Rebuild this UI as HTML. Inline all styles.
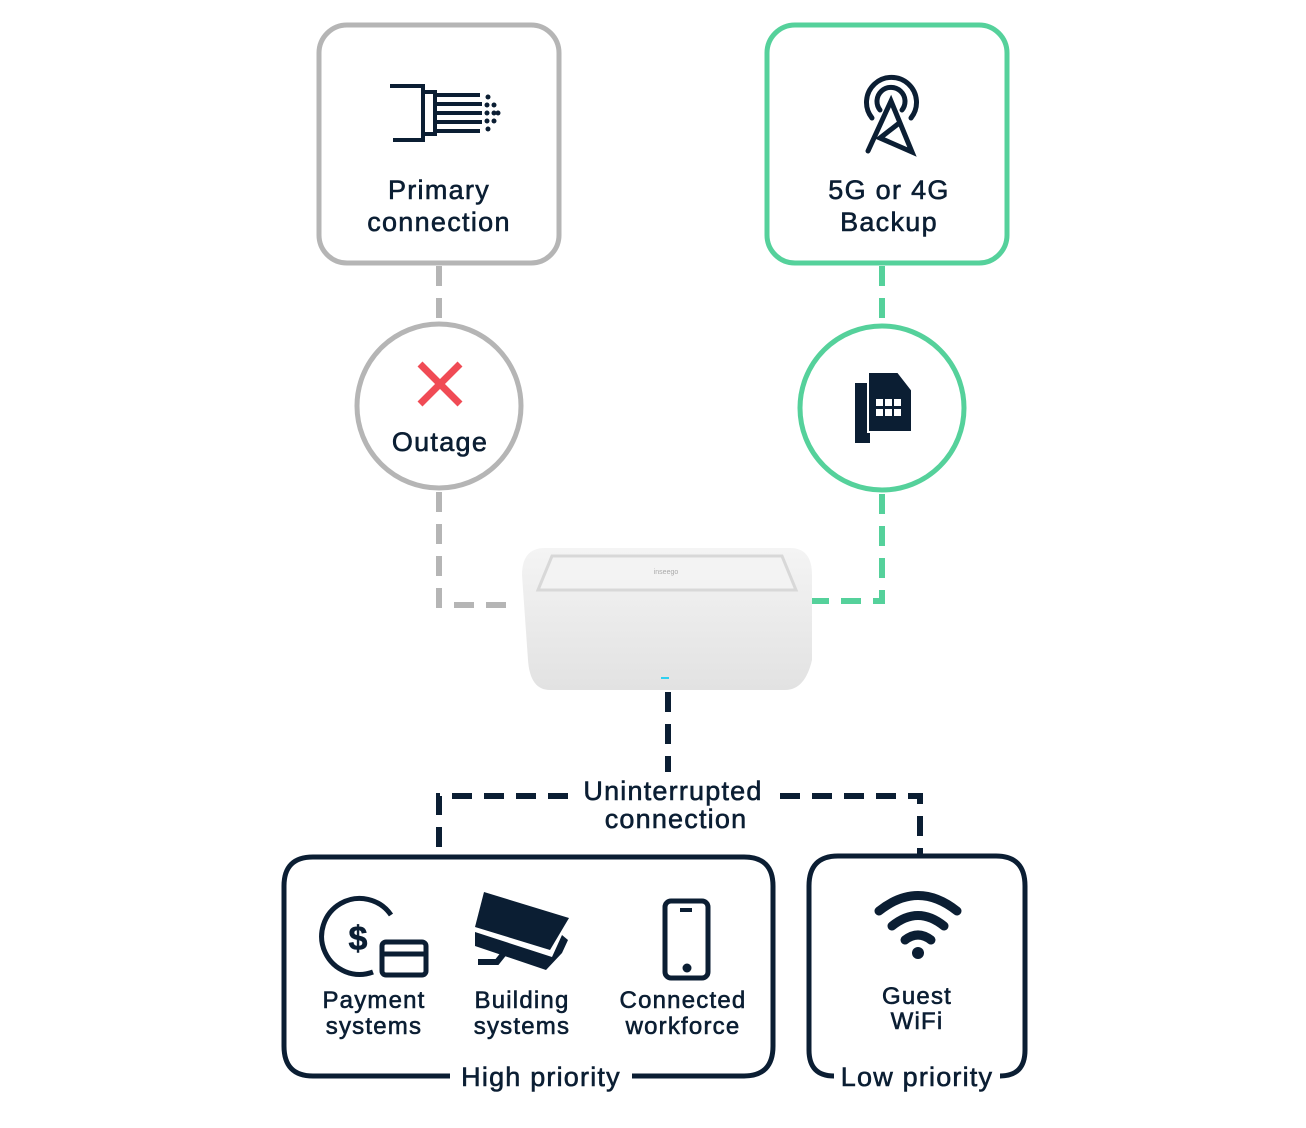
<!DOCTYPE html>
<html><head><meta charset="utf-8"><style>
html,body{margin:0;padding:0;background:#fff}
svg{display:block}
text{font-family:"Liberation Sans",sans-serif;fill:#0b1e33;text-anchor:middle;stroke:#0b1e33;stroke-width:0.6}
</style></head><body>
<svg width="1306" height="1128" viewBox="0 0 1306 1128" xmlns="http://www.w3.org/2000/svg">
<defs>
<linearGradient id="rg" x1="0" y1="0" x2="0" y2="1"><stop offset="0" stop-color="#f4f4f4"/><stop offset="1" stop-color="#e2e2e2"/></linearGradient>
</defs>
<g fill="none" stroke-width="6">
<path d="M439 266V322M439 492V605H515" stroke="#b5b5b5" stroke-dasharray="20 12"/>
<path d="M882 266V324M882 494V601H812" stroke="#55d19b" stroke-dasharray="20 12"/>
<path d="M668 692V772" stroke="#0b1e33" stroke-dasharray="20 12"/>
<path d="M568 796H439V856M780 796H920V856" stroke="#0b1e33" stroke-dasharray="20 12"/>
</g>
<rect x="319" y="25" width="240" height="238" rx="28" fill="#fff" stroke="#b5b5b5" stroke-width="5"/>
<rect x="767" y="25" width="240" height="238" rx="28" fill="#fff" stroke="#55d19b" stroke-width="5"/>
<g font-size="27" letter-spacing="1.3">
<text x="439" y="199">Primary</text>
<text x="439" y="231">connection</text>
<text x="889" y="199">5G or 4G</text>
<text x="889" y="231">Backup</text>
</g>
<g stroke="#0b1e33" stroke-width="4" fill="none">
<path d="M390 86H423V140H393"/>
<rect x="423" y="92" width="12" height="42"/>
<path d="M435 95H480M435 104H482M435 113H482M435 122H482M435 131H480"/>
</g>
<g fill="#0b1e33">
<circle cx="488" cy="97" r="2.5"/><circle cx="487" cy="105" r="2.5"/><circle cx="494" cy="105" r="2.5"/>
<circle cx="487" cy="113" r="2.5"/><circle cx="494" cy="113" r="2.5"/><circle cx="498" cy="113" r="2.5"/>
<circle cx="487" cy="121" r="2.5"/><circle cx="494" cy="121" r="2.5"/><circle cx="488" cy="129" r="2.5"/>
</g>
<g stroke="#0b1e33" stroke-width="5" fill="none" stroke-linecap="round">
<path d="M872 118A25 25 0 1 1 911 118"/>
<path d="M880 110A14 14 0 1 1 902 110"/>
<path d="M868 151L891 101L912 152L880 138L898 124"/>
</g>
<circle cx="439" cy="406" r="82" fill="#fff" stroke="#b5b5b5" stroke-width="5"/>
<circle cx="882" cy="408" r="82" fill="#fff" stroke="#55d19b" stroke-width="5"/>
<path d="M420 364L460 404M460 364L420 404" stroke="#f04b55" stroke-width="7"/>
<text x="440" y="451" font-size="27" letter-spacing="1.3">Outage</text>
<path d="M855 383H870V443H855Z" fill="#0b1e33"/>
<path d="M868 372H898L912 390V432H868Z" fill="#0b1e33" stroke="#fff" stroke-width="2"/>
<g fill="#fff"><rect x="876" y="399" width="7" height="7"/><rect x="885" y="399" width="7" height="7"/><rect x="894" y="399" width="7" height="7"/>
<rect x="876" y="409" width="7" height="7"/><rect x="885" y="409" width="7" height="7"/><rect x="894" y="409" width="7" height="7"/></g>
<path d="M545 548H790Q812 548 812 575V660Q805 690 785 690H550Q530 690 528 660L522 575Q522 548 545 548Z" fill="url(#rg)"/>
<path d="M552 556H782L796 590H538Z" fill="#f3f3f3" stroke="#d8d8d8" stroke-width="3"/>
<text x="666" y="574" font-size="7" style="fill:#aaa;stroke:none">inseego</text>
<rect x="661" y="677" width="8" height="2" fill="#2fd0f0"/>
<g font-size="27" letter-spacing="1.2">
<text x="673" y="800">Uninterrupted</text>
<text x="676" y="828">connection</text>
<text x="541" y="1086">High priority</text>
<text x="917" y="1086">Low priority</text>
</g>
<path d="M450 1076H313Q284 1076 284 1046V886Q284 857 313 857H744Q773 857 773 886V1046Q773 1076 744 1076H632" fill="none" stroke="#0b1e33" stroke-width="5"/>
<path d="M834 1076Q809 1076 809 1050V886Q809 856 838 856H996Q1025 856 1025 886V1050Q1025 1076 1000 1076" fill="none" stroke="#0b1e33" stroke-width="5"/>
<g font-size="24" letter-spacing="1.2">
<text x="374" y="1008">Payment</text>
<text x="374" y="1034">systems</text>
<text x="522" y="1008">Building</text>
<text x="522" y="1034">systems</text>
<text x="683" y="1008">Connected</text>
<text x="683" y="1034">workforce</text>
<text x="917" y="1004">Guest</text>
<text x="917" y="1029">WiFi</text>
</g>
<path d="M391 915A38 38 0 1 0 373 972" fill="none" stroke="#0b1e33" stroke-width="5"/>
<text x="358" y="950" font-size="34" font-weight="bold">$</text>
<rect x="382" y="942" width="44" height="33" rx="4" fill="#fff" stroke="#0b1e33" stroke-width="5"/>
<path d="M382 954H426" stroke="#0b1e33" stroke-width="5"/>
<path d="M484 892L569 918L550 950L475 927Z" fill="#0b1e33"/>
<path d="M475 932L552 957L562 935L568 940L562 953L546 970L475 946Z" fill="#0b1e33"/>
<path d="M505 952L497 962H478" fill="none" stroke="#0b1e33" stroke-width="6"/>
<rect x="665" y="901" width="43" height="77" rx="6" fill="none" stroke="#0b1e33" stroke-width="5"/>
<rect x="680" y="908" width="12" height="4" fill="#0b1e33"/>
<circle cx="687" cy="968" r="4.5" fill="#0b1e33"/>
<g fill="none" stroke="#0b1e33" stroke-width="9" stroke-linecap="round">
<path d="M879 911Q918 880 957 911"/>
<path d="M892 926Q918 905 944 926"/>
<path d="M905 940Q918 930 931 940"/>
</g>
<circle cx="918" cy="953" r="6" fill="#0b1e33"/>
</svg>
</body></html>
